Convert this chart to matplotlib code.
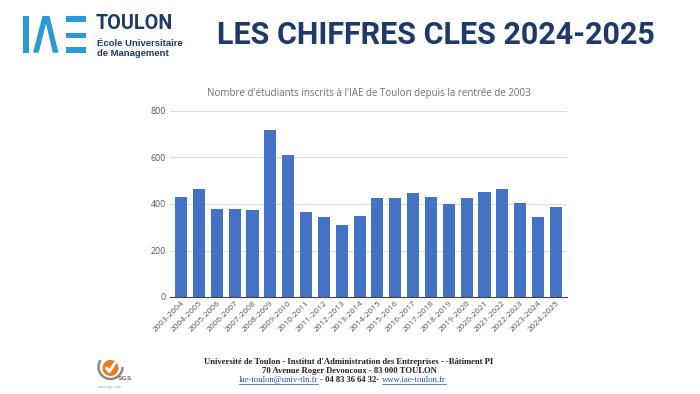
"""IAE Toulon - key figures 2024-2025: enrolment bar chart with header/footer."""

import matplotlib

matplotlib.use("Agg")
import matplotlib.pyplot as plt  # noqa: E402
from matplotlib.patches import Polygon, Rectangle, Circle, Arc  # noqa: E402

years = [
    "2003-2004", "2004-2005", "2005-2006", "2006-2007", "2007-2008",
    "2008-2009", "2009-2010", "2010-2011", "2011-2012", "2012-2013",
    "2013-2014", "2014-2015", "2015-2016", "2016-2017", "2017-2018",
    "2018-2019", "2019-2020", "2020-2021", "2021-2022", "2022-2023",
    "2023-2024", "2024-2025",
]
students = [430, 465, 380, 380, 373, 718, 610, 367, 342, 310, 348,
            424, 424, 449, 430, 401, 424, 450, 465, 404, 342, 386]
yticks = [0, 200, 400, 600, 800]

chart_title = "Nombre d'étudiants inscrits à l'IAE de Toulon depuis la rentrée de 2003"
page_title = "LES CHIFFRES CLES 2024-2025"
footer_lines = [
    "Université de Toulon - Institut d'Administration des Entreprises - -Bâtiment PI",
    "70 Avenue Roger Devoucoux - 83 000 TOULON",
]

NAVY = "#1f3a68"
LOGO_BLUE = "#2a9ad6"
BAR = "#4472c4"
LINK = "#1f4fc0"
FOOT = 6.2

W, H = 700, 394
fig = plt.figure(figsize=(W / 100, H / 100), dpi=100)

# --- chart ---
ax = fig.add_axes([170 / W, 1 - 297 / H, 397 / W, 186 / H])
x = list(range(len(years)))
ax.bar(x, students, width=0.68, color=BAR, zorder=3)
ax.set_xlim(-0.62, len(years) - 0.38)
ax.set_ylim(0, 800)
ax.set_yticks(yticks)
ax.set_yticklabels([str(v) for v in yticks], fontsize=6.3, color="#555555",
                   family="Open Sans")
ax.set_xticks(x)
ax.set_xticklabels(years, rotation=45, ha="right", rotation_mode="anchor",
                   fontsize=6, color="#555555", family="Open Sans")
ax.tick_params(length=0, pad=3)
ax.tick_params(axis="x", pad=2)
ax.grid(axis="y", color="#d9d9d9", lw=0.7, zorder=0)
for s in ("top", "right", "left"):
    ax.spines[s].set_visible(False)
ax.spines["bottom"].set_color("#444444")
ax.spines["bottom"].set_linewidth(0.8)
ax.spines["bottom"].set_zorder(4)
ax.set_title(chart_title, fontsize=7, color="#6f6f6f", family="Open Sans", pad=11)

# --- header / footer overlay in pixel coordinates ---
ov = fig.add_axes([0, 0, 1, 1], zorder=-1)
ov.set_xlim(0, W)
ov.set_ylim(H, 0)
ov.axis("off")

# IAE logo
ov.add_patch(Rectangle((23, 16), 5.7, 36.7, color=LOGO_BLUE, lw=0))
ov.add_patch(Polygon([(33, 52.7), (42.5, 16), (49.5, 16), (58.5, 52.7),
                      (52.8, 52.7), (46, 23.5), (38.7, 52.7)],
                     closed=True, color=LOGO_BLUE, lw=0))
for yy in (16, 32.5, 47.2):
    ov.add_patch(Rectangle((66.3, yy), 20, 5.5, color=LOGO_BLUE, lw=0))

ov.text(96, 23, "TOULON", fontsize=14.2, weight="bold", color=NAVY,
        family="Roboto", va="center", ha="left")
ov.text(97, 43, "École Universitaire", fontsize=6.8, weight="bold", color=NAVY,
        family="Liberation Sans", va="center", ha="left")
ov.text(97, 53, "de Management", fontsize=6.8, weight="bold", color=NAVY,
        family="Liberation Sans", va="center", ha="left")

ov.text(436, 35, page_title, fontsize=22, weight="bold", color=NAVY,
        family="Roboto", va="center", ha="center")

# SGS certification mark
ov.add_patch(Arc((110.5, 367), 24, 24, theta1=0, theta2=215, color="#8a8a8a", lw=1.8))
ov.add_patch(Circle((110.5, 368), 8, color="#ec7a1e", lw=0))
ov.plot([106.5, 109.5, 115], [368, 371.5, 363], color="white", lw=2.2,
        solid_capstyle="round")
ov.text(125, 379, "SGS", fontsize=4.5, color="#7a7a7a", weight="bold",
        ha="center", va="center")
ov.text(110, 387, "www.sgs.com", fontsize=2.5, color="#9a9a9a",
        ha="center", va="center")

# footer address
ov.text(349, 361.5, footer_lines[0], fontsize=FOOT, weight="bold", color="#222222",
        family="Liberation Serif", ha="center", va="center")
ov.text(349, 370.8, footer_lines[1], fontsize=FOOT, weight="bold", color="#222222",
        family="Liberation Serif", ha="center", va="center")
t1 = ov.text(239, 380, "Iae-toulon@univ-tln.fr", fontsize=FOOT, color=LINK,
             family="Liberation Serif", ha="left", va="center")
fig.canvas.draw()
rend = fig.canvas.get_renderer()


def _next(t, s, color, link):
    bb = t.get_window_extent(rend)
    x0 = ov.transData.inverted().transform((bb.x1, bb.y0))[0]
    return ov.text(x0, 380, s, fontsize=FOOT, color=color,
                   weight="normal" if link else "bold",
                   family="Liberation Serif", ha="left", va="center")


def _underline(t):
    bb = t.get_window_extent(rend)
    (xa, ya), (xb, _) = ov.transData.inverted().transform([(bb.x0, bb.y0), (bb.x1, bb.y0)])
    ov.plot([xa, xb], [ya + 0.3, ya + 0.3], color=LINK, lw=0.5)


_underline(t1)
t2 = _next(t1, " - 04 83 36 64 32- ", "#222222", False)
t3 = _next(t2, "www.iae-toulon.fr", LINK, True)
fig.canvas.draw()
_underline(t3)

fig.savefig("out.png", dpi=100)
